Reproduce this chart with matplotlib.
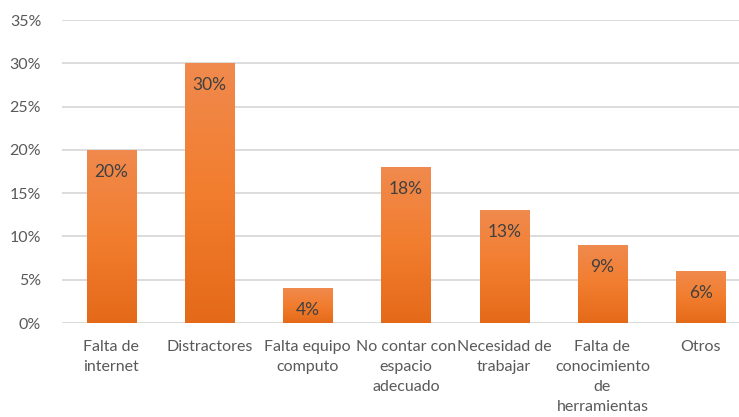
import matplotlib.pyplot as plt
import numpy as np
from matplotlib.colors import LinearSegmentedColormap
from matplotlib.ticker import PercentFormatter

categorias = ['Falta de\ninternet', 'Distractores', 'Falta equipo\ncomputo',
              'No contar con\nespacio\nadecuado', 'Necesidad de\ntrabajar',
              'Falta de\nconocimiento\nde\nherramientas', 'Otros']
valores = [20, 30, 4, 18, 13, 9, 6]

plt.rcParams['font.family'] = ['Lato', 'DejaVu Sans']

fig = plt.figure(figsize=(7.39, 4.17), dpi=100)
ax = fig.add_axes([0.0839, 0.2254, 0.9161, 0.7266])

x = np.arange(len(valores))
barras = ax.bar(x, valores, width=0.5, color='#ED7D31', zorder=2)

# degradado de cada barra (claro arriba, oscuro abajo)
degradado = LinearSegmentedColormap.from_list('naranja', ['#E46A19', '#F27D2E', '#F08A4E'])
grad = np.linspace(0, 1, 256).reshape(-1, 1)
for b in barras:
    x0, y0 = b.get_x(), b.get_y()
    w, h = b.get_width(), b.get_height()
    im = ax.imshow(grad, cmap=degradado, origin='lower', aspect='auto',
                   extent=[x0, x0 + w, y0, y0 + h], zorder=3)
    im.set_clip_path(b)
    ax.text(x0 + w / 2, h - 2.5, f'{h:.0f}%', ha='center', va='center',
            fontsize=12.5, color='#404040', zorder=4)

ax.set_xlim(-0.5, 6.39)
ax.set_ylim(0, 35)
ax.set_yticks(range(0, 36, 5))
ax.yaxis.set_major_formatter(PercentFormatter(decimals=0))
ax.set_xticks(x)
ax.set_xticklabels(categorias, linespacing=1.55)
ax.grid(axis='y', color='#D9D9D9', linewidth=1.3, zorder=0)
ax.tick_params(axis='both', length=0, labelsize=11.5, colors='#595959')
ax.tick_params(axis='x', pad=12)
ax.tick_params(axis='y', pad=15)
for s in ax.spines.values():
    s.set_visible(False)

plt.savefig('out.png', dpi=100)
